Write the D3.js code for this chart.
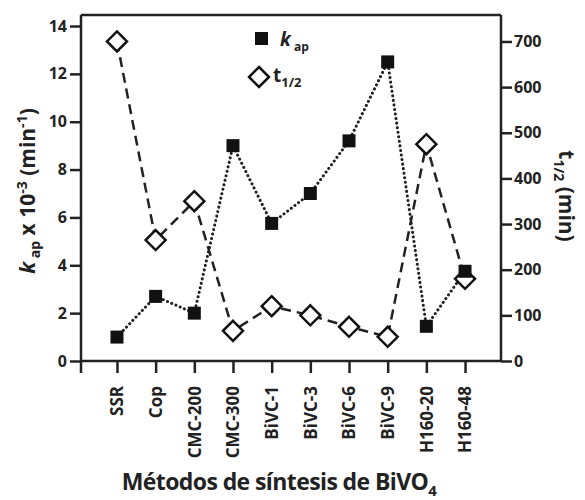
<!DOCTYPE html>
<html>
<head>
<meta charset="utf-8">
<script src="https://cdn.jsdelivr.net/npm/d3@7"></script>
<style>
  body { margin: 0; background: #fff; }
  svg { font-family: "Open Sans", sans-serif; font-weight: bold; }
  .axis path, .axis line { stroke: #222; stroke-width: 2.5; }
  .axis text { font-family: "Open Sans", sans-serif; font-size: 16px; font-weight: bold; fill: #222; }
</style>
</head>
<body>
<svg width="585" height="500"></svg>
<script>
var svg = d3.select("svg");

// data
var metodos = ["SSR", "Cop", "CMC-200", "CMC-300", "BiVC-1", "BiVC-3", "BiVC-6", "BiVC-9", "H160-20", "H160-48"];
var kap = [1.0, 2.7, 2.0, 9.0, 5.75, 7.0, 9.2, 12.5, 1.45, 3.75];
var tMedio = [700, 265, 350, 66, 120, 100, 75, 53, 475, 180];
var kTicks = [0, 2, 4, 6, 8, 10, 12, 14];
var tTicks = [0, 100, 200, 300, 400, 500, 600, 700];

var pLeft = 81, pRight = 501, pTop = 15, pBottom = 361;

var x = d3.scalePoint().domain(metodos).range([pLeft, pRight]).padding(0.93);
var yK = d3.scaleLinear().domain([0, 14.46]).range([pBottom, pTop]);
var yT = d3.scaleLinear().domain([0, 758]).range([pBottom, pTop]);

// frame top line
svg.append("line")
  .attr("x1", pLeft).attr("x2", pRight).attr("y1", pTop).attr("y2", pTop)
  .attr("stroke", "#222").attr("stroke-width", 2.5);

// axes
svg.append("g").attr("class", "axis")
  .attr("transform", "translate(" + pLeft + ",0)")
  .call(d3.axisLeft(yK).tickValues(kTicks).tickSize(11).tickSizeOuter(0).tickPadding(3))
  .call(g => g.select(".domain").attr("d", "M0," + pBottom + "V" + pTop));

svg.append("g").attr("class", "axis")
  .attr("transform", "translate(" + pRight + ",0)")
  .call(d3.axisRight(yT).tickValues(tTicks).tickSize(11).tickSizeOuter(0).tickPadding(2))
  .call(g => g.select(".domain").attr("d", "M0," + pBottom + "V" + pTop));

var xAxis = svg.append("g").attr("class", "axis")
  .attr("transform", "translate(0," + pBottom + ")")
  .call(d3.axisBottom(x).tickSize(12).tickSizeOuter(0).tickPadding(4));
xAxis.select(".domain").attr("d", "M" + pLeft + ",0H" + pRight);
// extra tick at the left end
xAxis.append("line").attr("x1", pLeft).attr("x2", pLeft).attr("y1", 0).attr("y2", 12);
xAxis.selectAll(".tick text")
  .attr("transform", "rotate(-90)")
  .attr("text-anchor", "end")
  .attr("x", -25).attr("y", 0).attr("dy", "0.35em")
  .style("font-size", "17px");

// lines
var lineK = d3.line().x((d, i) => x(metodos[i])).y(d => yK(d));
var lineT = d3.line().x((d, i) => x(metodos[i])).y(d => yT(d));

svg.append("path").datum(tMedio)
  .attr("d", lineT).attr("fill", "none")
  .attr("stroke", "#222").attr("stroke-width", 2.5)
  .attr("stroke-dasharray", "10,6");

svg.append("path").datum(kap)
  .attr("d", lineK).attr("fill", "none")
  .attr("stroke", "#222").attr("stroke-width", 3)
  .attr("stroke-linecap", "round")
  .attr("stroke-dasharray", "0.1,4.5");

// markers
var diamond = "M0,-10L10,0L0,10L-10,0Z";
svg.append("g").selectAll("path")
  .data(tMedio).enter().append("path")
  .attr("d", diamond)
  .attr("transform", (d, i) => "translate(" + x(metodos[i]) + "," + yT(d) + ")")
  .attr("fill", "#fff").attr("stroke", "#111").attr("stroke-width", 2.5);

svg.append("g").selectAll("rect")
  .data(kap).enter().append("rect")
  .attr("x", (d, i) => x(metodos[i]) - 6.5)
  .attr("y", d => yK(d) - 6.5)
  .attr("width", 13).attr("height", 13)
  .attr("fill", "#111");

// legend
svg.append("rect").attr("x", 255).attr("y", 32).attr("width", 13).attr("height", 13).attr("fill", "#111");
var lk = svg.append("text").attr("x", 280).attr("y", 46).style("font-size", "19px").attr("fill", "#222");
lk.append("tspan").text("k").style("font-style", "italic");
lk.append("tspan").text(" ap").attr("dy", 5).style("font-size", "12px");

svg.append("path").attr("d", diamond).attr("transform", "translate(259,77)")
  .attr("fill", "#fff").attr("stroke", "#111").attr("stroke-width", 2.5);
var lt = svg.append("text").attr("x", 273).attr("y", 82).style("font-size", "19px").attr("fill", "#222");
lt.append("tspan").text("t");
lt.append("tspan").text("1/2").attr("dy", 5).style("font-size", "13px");

// axis titles
var yl = svg.append("text")
  .attr("transform", "translate(35,191) rotate(-90)")
  .attr("text-anchor", "middle").style("font-size", "21px").attr("fill", "#222");
yl.append("tspan").text("k").style("font-style", "italic");
yl.append("tspan").text(" ap").attr("dy", 5).style("font-size", "14px");
yl.append("tspan").text(" x 10").attr("dy", -5);
yl.append("tspan").text("-3").attr("dy", -8).style("font-size", "14px");
yl.append("tspan").text(" (min").attr("dy", 8);
yl.append("tspan").text("-1").attr("dy", -8).style("font-size", "14px");
yl.append("tspan").text(")").attr("dy", 8);

var yr = svg.append("text")
  .attr("transform", "translate(559,196) rotate(90)")
  .attr("text-anchor", "middle").style("font-size", "21px").attr("fill", "#222");
yr.append("tspan").text("t");
yr.append("tspan").text("1/2").attr("dy", 5).style("font-size", "14px");
yr.append("tspan").text(" (min)").attr("dy", -5);

var xl = svg.append("text")
  .attr("x", 279).attr("y", 490)
  .attr("text-anchor", "middle").style("font-size", "23px")
  .style("letter-spacing", "-0.6px").attr("fill", "#222");
xl.append("tspan").text("Métodos de síntesis de BiVO");
xl.append("tspan").text("4").attr("dy", 6).style("font-size", "15px");
</script>
</body>
</html>
